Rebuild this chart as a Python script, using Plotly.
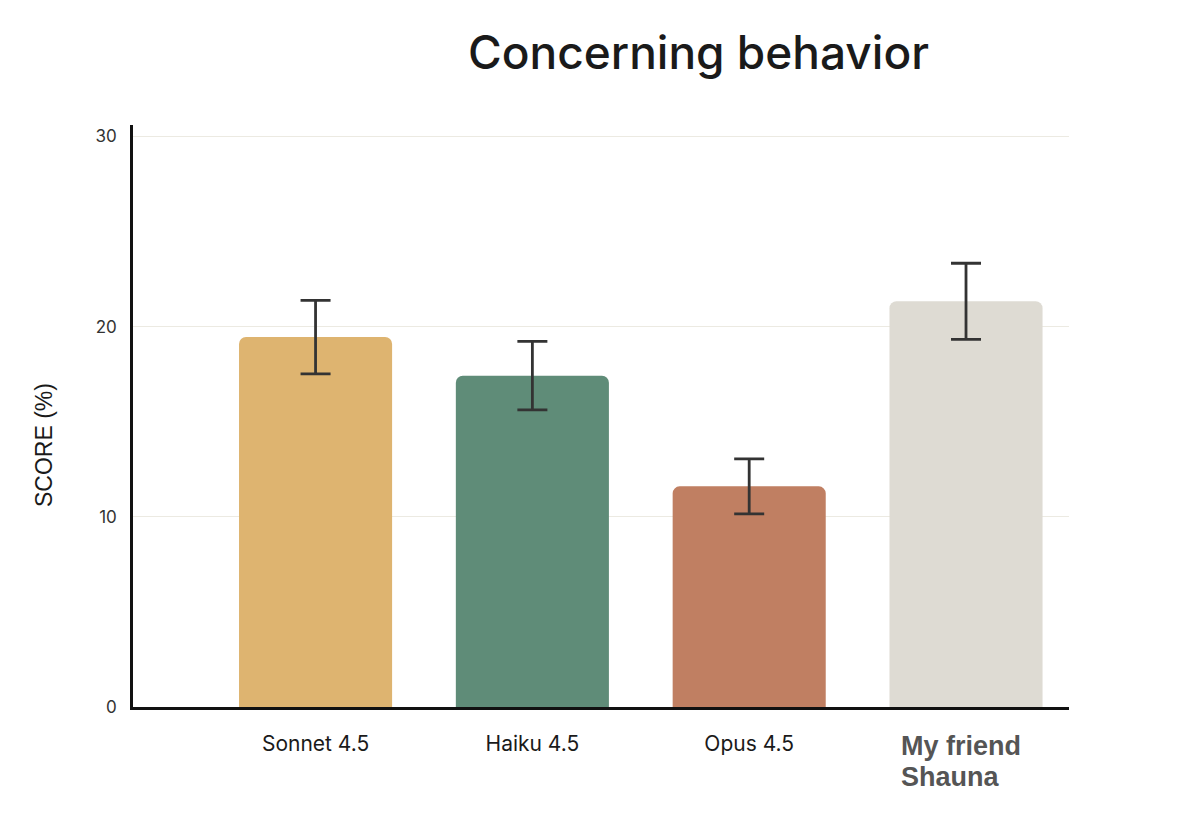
import plotly.graph_objects as go

categories = ["Sonnet 4.5", "Haiku 4.5", "Opus 4.5", "My friend Shauna"]
tick_labels = ["Sonnet 4.5", "Haiku 4.5", "Opus 4.5", ""]
special_label_lines = ["My friend", "Shauna"]
scores = [19.45, 17.42, 11.6, 21.33]
errors = [1.93, 1.80, 1.45, 2.0]
colors = ["#DEB470", "#5F8C78", "#C07F62", "#DEDBD3"]
y_ticks = [0, 10, 20, 30]

L, R, T, B = 125, 139, 117, 126
PW, PH = 1200 - L - R, 825 - T - B

fig = go.Figure()
fig.add_trace(go.Bar(
    x=list(range(len(categories))),
    y=scores,
    width=0.706,
    marker=dict(color=colors, line=dict(width=0)),
    error_y=dict(type="data", array=errors, visible=True,
                 color="#333333", thickness=2.8, width=15),
    hoverinfo="skip",
))

fig.update_layout(
    width=1200, height=825,
    margin=dict(l=L, r=R, t=T, b=B),
    paper_bgcolor="white", plot_bgcolor="white",
    showlegend=False,
    barcornerradius=7,
    font=dict(family="Inter", color="#222"),
)
fig.update_xaxes(
    range=[-0.842, 3.475],
    tickmode="array", tickvals=list(range(len(categories))), ticktext=tick_labels,
    tickfont=dict(family="Inter", size=21, color="#1a1a1a"),
    showline=True, linecolor="#111", linewidth=2.6,
    ticks="", showgrid=False, zeroline=False,
    ticklabelstandoff=16,
)
fig.update_yaxes(
    range=[0, 30.6],
    tickmode="array", tickvals=y_ticks, ticktext=[str(v) for v in y_ticks],
    tickfont=dict(family="Inter", size=17, color="#333"),
    showline=True, linecolor="#111", linewidth=2.6,
    showgrid=True, gridcolor="#ECEAE2", gridwidth=1.2,
    zeroline=False, ticks="", ticklabelstandoff=10,
)

# last category label (bold, left aligned lines)
for i, line in enumerate(special_label_lines):
    fig.add_annotation(
        x=3, xref="x", xanchor="left", xshift=-67,
        y=0, yref="paper", yanchor="top", yshift=-22 - 31 * i,
        text="<b>" + line + "</b>", showarrow=False,
        font=dict(family="Liberation Sans", size=27, color="#555555"),
    )
# y axis title
fig.add_annotation(
    x=(36 - L) / PW, xref="paper", xanchor="center",
    y=(T + PH - 437) / PH, yref="paper", yanchor="middle",
    text="SCORE (%)", textangle=-90,
    showarrow=False, font=dict(family="Liberation Sans", size=23, color="#1a1a1a"),
)
# chart title
fig.add_annotation(
    x=(690 - L) / PW, xref="paper", xanchor="center",
    y=(T + PH - 44) / PH, yref="paper", yanchor="middle",
    text="Concerning behavior",
    showarrow=False, font=dict(family="Inter", size=46, color="#1a1a1a", weight=500),
)

fig.write_html("out.html")
